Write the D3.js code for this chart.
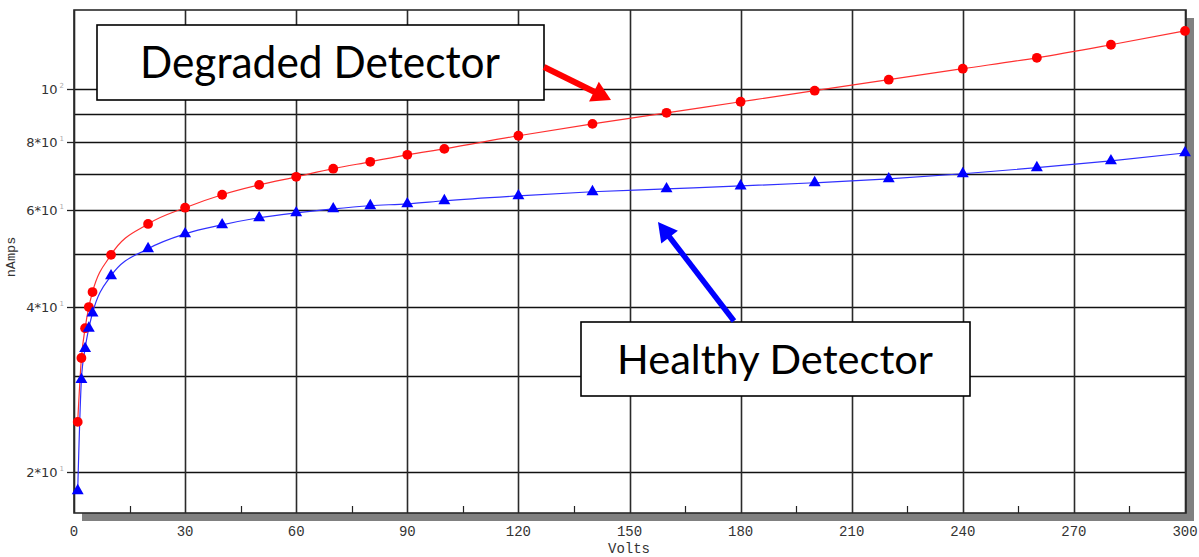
<!DOCTYPE html>
<html>
<head>
<meta charset="utf-8">
<script src="https://cdn.jsdelivr.net/npm/d3@7"></script>
<style>
  html, body { margin: 0; padding: 0; background: #ffffff; }
  svg { display: block; }
</style>
</head>
<body>
<svg id="chart" width="1199" height="557"></svg>
<script>
// ---- data ----
const volts = [1, 2, 3, 4, 5, 10, 20, 30, 40, 50, 60, 70, 80, 90, 100, 120, 140, 160, 180, 200, 220, 240, 260, 280, 300];
const degraded = [24.7, 32.3, 36.6, 40.0, 42.6, 49.8, 56.7, 60.7, 64.1, 66.8, 69.1, 71.5, 73.6, 75.8, 77.7, 82.1, 86.3, 90.4, 94.7, 99.2, 103.9, 108.8, 113.9, 120.3, 127.5];
const healthy = [18.5, 29.5, 33.6, 36.6, 39.0, 45.6, 51.1, 54.4, 56.5, 58.2, 59.4, 60.4, 61.2, 61.7, 62.5, 63.8, 64.9, 65.7, 66.5, 67.4, 68.5, 70.0, 71.8, 73.9, 76.4];
const xTicks = [0, 30, 60, 90, 120, 150, 180, 210, 240, 270, 300];
const xMinorTicks = [15, 45, 75, 105, 135, 165, 195, 225, 255, 285];
const yGridValues = [20, 30, 40, 50, 60, 70, 80, 90, 100];
const yLabelValues = [20, 40, 60, 80, 100];
const yLabelMain = ["2*10", "4*10", "6*10", "8*10", "10"];
const yLabelExp = ["1", "1", "1", "1", "2"];
const xTitle = "Volts";
const yTitle = "nAmps";
const labelDegraded = "Degraded Detector";
const labelHealthy = "Healthy Detector";

// ---- layout ----
const L = 74, R = 1186, T = 10, B = 513;
const svg = d3.select("#chart");

const x = d3.scaleLinear().domain([0, 300]).range([74, 1185]);
const y = d3.scaleLog().domain([16.85, 139.2]).range([B, T]);

// shadow + plot background
svg.append("rect").attr("x", L + 8).attr("y", T + 8).attr("width", R - L).attr("height", B - T).attr("fill", "#808080");
svg.append("rect").attr("x", L).attr("y", T).attr("width", R - L).attr("height", B - T).attr("fill", "#ffffff");

// horizontal gridlines
svg.append("g").selectAll("line").data(yGridValues).join("line")
  .attr("x1", L).attr("x2", R)
  .attr("y1", d => Math.round(y(d)) + 0.5).attr("y2", d => Math.round(y(d)) + 0.5)
  .attr("stroke", "#111").attr("stroke-width", 1.4);

// vertical gridlines
svg.append("g").selectAll("line").data(xTicks).join("line")
  .attr("x1", d => Math.round(x(d)) + 0.5).attr("x2", d => Math.round(x(d)) + 0.5)
  .attr("y1", T).attr("y2", B)
  .attr("stroke", "#2a2a2a").attr("stroke-width", 1.6);

// minor x ticks
svg.append("g").selectAll("line").data(xMinorTicks).join("line")
  .attr("x1", d => Math.round(x(d)) + 0.5).attr("x2", d => Math.round(x(d)) + 0.5)
  .attr("y1", B - 7).attr("y2", B)
  .attr("stroke", "#222").attr("stroke-width", 1.2);

// frame
svg.append("rect").attr("x", L).attr("y", T).attr("width", R - L).attr("height", B - T)
  .attr("fill", "none").attr("stroke", "#2a2a2a").attr("stroke-width", 1.6);

// y tick marks + labels
svg.append("g").selectAll("line").data(yLabelValues).join("line")
  .attr("x1", L - 7).attr("x2", L)
  .attr("y1", d => Math.round(y(d)) + 0.5).attr("y2", d => Math.round(y(d)) + 0.5)
  .attr("stroke", "#222").attr("stroke-width", 1.3);

const yl = svg.append("g").selectAll("text").data(yLabelValues).join("text")
  .attr("x", 64).attr("y", d => y(d) + 5)
  .attr("text-anchor", "end")
  .attr("font-family", "DejaVu Sans, sans-serif").attr("font-size", 13)
  .attr("fill", "#333");
yl.append("tspan").text((d, i) => yLabelMain[i]);
yl.append("tspan").attr("dx", 2).attr("dy", -6).attr("font-size", 7).attr("fill", "#aaa").text((d, i) => yLabelExp[i]);

// x labels
svg.append("g").selectAll("text").data(xTicks).join("text")
  .attr("x", d => x(d)).attr("y", 536)
  .attr("text-anchor", "middle")
  .attr("font-family", "Liberation Mono, monospace").attr("font-size", 14)
  .attr("fill", "#333")
  .text(d => d);

svg.append("text").attr("x", 629).attr("y", 553).attr("text-anchor", "middle")
  .attr("font-family", "Liberation Mono, monospace").attr("font-size", 14).attr("fill", "#333")
  .text(xTitle);

svg.append("text").attr("transform", "translate(15,257) rotate(-90)").attr("text-anchor", "middle")
  .attr("font-family", "Liberation Mono, monospace").attr("font-size", 13.5).attr("fill", "#333")
  .text(yTitle);

// series
const line = d3.line().x(d => x(d[0])).y(d => y(d[1])).curve(d3.curveMonotoneX);
const redPts = volts.map((v, i) => [v, degraded[i]]);
const bluePts = volts.map((v, i) => [v, healthy[i]]);

svg.append("path").attr("d", line(redPts)).attr("fill", "none").attr("stroke", "#ff3030").attr("stroke-width", 1.2);
svg.append("path").attr("d", line(bluePts)).attr("fill", "none").attr("stroke", "#3030ff").attr("stroke-width", 1.2);

svg.append("g").selectAll("circle").data(redPts).join("circle")
  .attr("cx", d => x(d[0])).attr("cy", d => y(d[1])).attr("r", 4.9).attr("fill", "#ff0000");

const tri = d3.symbol().type(d3.symbolTriangle).size(62);
svg.append("g").selectAll("path").data(bluePts).join("path")
  .attr("transform", d => `translate(${x(d[0])},${y(d[1])})`)
  .attr("d", tri).attr("fill", "#0000ff");

// annotations
function box(x0, y0, x1, y1) {
  svg.append("rect").attr("x", x0).attr("y", y0).attr("width", x1 - x0).attr("height", y1 - y0)
    .attr("fill", "#ffffff").attr("stroke", "#000").attr("stroke-width", 1.6);
}
box(97, 25, 544, 100);
svg.append("text").attr("x", 140).attr("y", 78)
  .attr("font-family", "Lato, Open Sans, sans-serif").attr("font-size", 44).attr("fill", "#000")
  .attr("textLength", 360).attr("lengthAdjust", "spacingAndGlyphs")
  .text(labelDegraded);

box(581, 322, 970, 396);
svg.append("text").attr("x", 617).attr("y", 373.5)
  .attr("font-family", "Lato, Open Sans, sans-serif").attr("font-size", 40).attr("fill", "#000")
  .attr("textLength", 316).attr("lengthAdjust", "spacingAndGlyphs")
  .text(labelHealthy);

function arrow(x0, y0, x1, y1, color, head, headW, width) {
  const dx = x1 - x0, dy = y1 - y0, len = Math.hypot(dx, dy);
  const ux = dx / len, uy = dy / len, px = -uy, py = ux;
  const bx = x1 - ux * head, by = y1 - uy * head;
  svg.append("line").attr("x1", x0).attr("y1", y0).attr("x2", bx + ux * 2).attr("y2", by + uy * 2)
    .attr("stroke", color).attr("stroke-width", width);
  svg.append("path")
    .attr("d", `M${x1},${y1}L${bx + px * headW},${by + py * headW}L${bx - px * headW},${by - py * headW}Z`)
    .attr("fill", color);
}
arrow(544, 67, 611, 100, "#ff0000", 19, 11, 6);
arrow(734, 321, 658, 222, "#0000ff", 19, 10.5, 5.5);
</script>
</body>
</html>
